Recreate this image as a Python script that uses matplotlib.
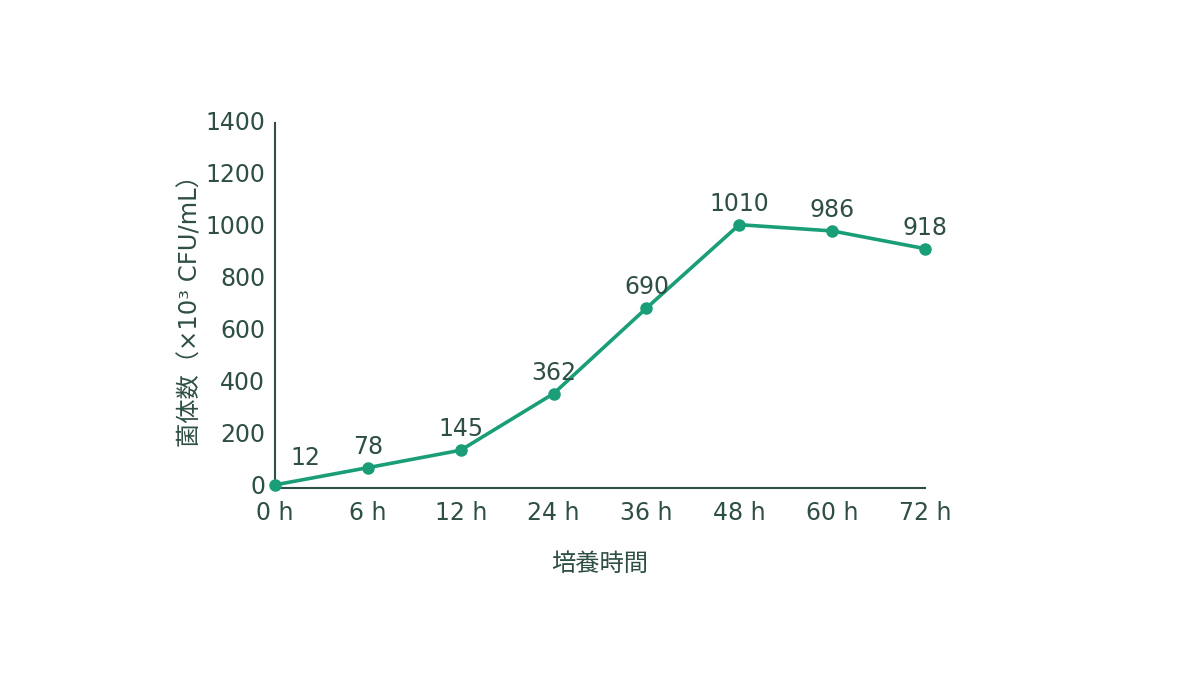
import matplotlib
matplotlib.use("Agg")
import matplotlib.pyplot as plt
import matplotlib.transforms as mtransforms

plt.rcParams['font.family'] = ['DejaVu Sans', 'Noto Sans CJK JP']

categories = ["0 h", "6 h", "12 h", "24 h", "36 h", "48 h", "60 h", "72 h"]
values = [12, 78, 145, 362, 690, 1010, 986, 918]
y_ticks = [0, 200, 400, 600, 800, 1000, 1200, 1400]
x_label = "培養時間"
y_label = "菌体数（×10³ CFU/mL）"

line_color = "#1a9e77"
text_color = "#2f4f46"

fig = plt.figure(figsize=(12, 6.75), dpi=100)
ax = fig.add_axes([275/1200, 1 - 488/675, 650/1200, 365/675])

x = list(range(len(categories)))
ax.plot(x, values, color=line_color, linewidth=2.6, marker='o', markersize=8,
        clip_on=False, zorder=3)

for i, v in enumerate(values):
    if i == 0:
        ax.annotate(str(v), (i, v), xytext=(22, 19), textcoords='offset points',
                    ha='center', va='center', fontsize=17, color=text_color)
    else:
        ax.annotate(str(v), (i, v), xytext=(0, 15), textcoords='offset points',
                    ha='center', va='center', fontsize=17, color=text_color)

ax.set_xlim(0, len(categories) - 1)
ax.set_ylim(0, 1400)
ax.set_xticks(x)
ax.set_xticklabels(categories)
ax.set_yticks(y_ticks)
ax.tick_params(axis='both', length=0, labelsize=17, colors=text_color)
ax.tick_params(axis='x', pad=9)
ax.tick_params(axis='y', pad=7)
shift = mtransforms.ScaledTranslation(0, 3/100, fig.dpi_scale_trans)
for lab in ax.get_yticklabels():
    lab.set_verticalalignment('center_baseline')
    lab.set_transform(lab.get_transform() + shift)

for s in ['top', 'right']:
    ax.spines[s].set_visible(False)
for s in ['left', 'bottom']:
    ax.spines[s].set_color(text_color)
    ax.spines[s].set_linewidth(1.5)

ax.set_xlabel(x_label, fontsize=17.5, color=text_color, labelpad=20)
ax.set_ylabel(y_label, fontsize=17.5, color=text_color, labelpad=2)

fig.savefig("out.png", dpi=100)
